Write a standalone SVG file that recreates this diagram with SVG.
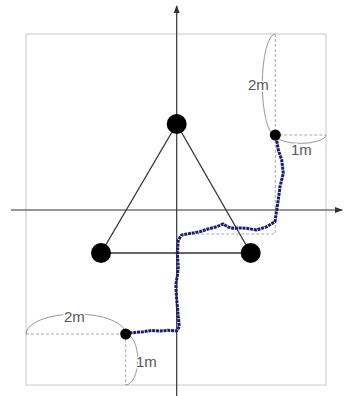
<svg xmlns="http://www.w3.org/2000/svg" width="344" height="396" viewBox="0 0 344 396">
<style>
.frame{fill:none;stroke:#c8c8c8;stroke-width:1}
.axis{stroke:#333;stroke-width:1.2;fill:none}
.edge{stroke:#333;stroke-width:1.3;fill:none}
.dash{stroke:#aaa;stroke-width:1;stroke-dasharray:3 2;fill:none}
.arc{stroke:#999;stroke-width:1;fill:none}
.lbl{font-family:"Liberation Sans",Arial,sans-serif;font-size:15px;fill:#555;stroke:#fff;stroke-width:3;paint-order:stroke}
.node{fill:#000}
.trace{fill:none;stroke:#1a1a70;stroke-width:3;stroke-linejoin:round;stroke-dasharray:3 0.8}
</style>
<defs>
<marker id="ah" markerWidth="8" markerHeight="8" refX="7" refY="4" orient="auto" markerUnits="userSpaceOnUse">
<path d="M0,1 L8,4 L0,7 Z" fill="#333"/>
</marker>
</defs>
<rect class="frame" x="26" y="34" width="300" height="351"/>
<g id="axes">
<line class="axis" x1="11" y1="210" x2="342" y2="210" marker-end="url(#ah)"/>
<line class="axis" x1="176.7" y1="396" x2="176.7" y2="6" marker-end="url(#ah)"/>
</g>
<g id="connectors">
<line class="edge" x1="176.7" y1="124" x2="101" y2="253"/>
<line class="edge" x1="176.7" y1="124" x2="250.7" y2="253"/>
<line class="edge" x1="101" y1="253" x2="250.7" y2="253"/>
</g>
<g id="dimensions">
<path class="dash" d="M275.3,34 V135 H326"/>
<path class="dash" d="M275.3,135 V234 H198"/>
<path class="dash" d="M26,334 H125.7 V385"/>
<path class="arc" d="M275.3,34 A13,50.5 0 0 0 275.3,135"/>
<path class="arc" d="M275.3,135 A25.4,9 0 0 0 326,135"/>
<path class="arc" d="M26,334 A49.8,20 0 0 1 125.7,334"/>
<path class="arc" d="M125.7,334 A12,25.5 0 0 1 125.7,385"/>
<text class="lbl" x="248" y="90">2m</text>
<text class="lbl" x="291" y="155">1m</text>
<text class="lbl" x="64" y="322">2m</text>
<text class="lbl" x="136" y="367">1m</text>
</g>
<g id="trace">
<path class="trace" d="M125.7,333.3 L135,332.5 143.3,331.7 152,330.5 160,331 168,330.3 176.7,331 179.3,326.7 178.3,316.7 177.5,308 176.7,300 176,290 176,283.3 177.5,275 178.3,266.7 177.3,253.3 178.3,240 181.7,235 190,233.5 200,231.7 208,229 216.7,226.7 223.3,224 228,227 233.3,228.3 240,228 246.7,228.3 256.7,230 266.7,226.7 275,221.7 276.7,210 278.3,200 280,186.7 283.3,173.3 281.7,160 278.3,150 276.7,140 275.3,135"/>
</g>
<g id="n1"><circle class="node" cx="176.7" cy="124" r="10"/></g>
<g id="n2"><circle class="node" cx="101" cy="253" r="10"/></g>
<g id="n3"><circle class="node" cx="250.7" cy="253" r="10"/></g>
<g id="start"><circle class="node" cx="125.7" cy="334" r="5.5"/></g>
<g id="end"><circle class="node" cx="275.3" cy="135" r="5.5"/></g>
</svg>
